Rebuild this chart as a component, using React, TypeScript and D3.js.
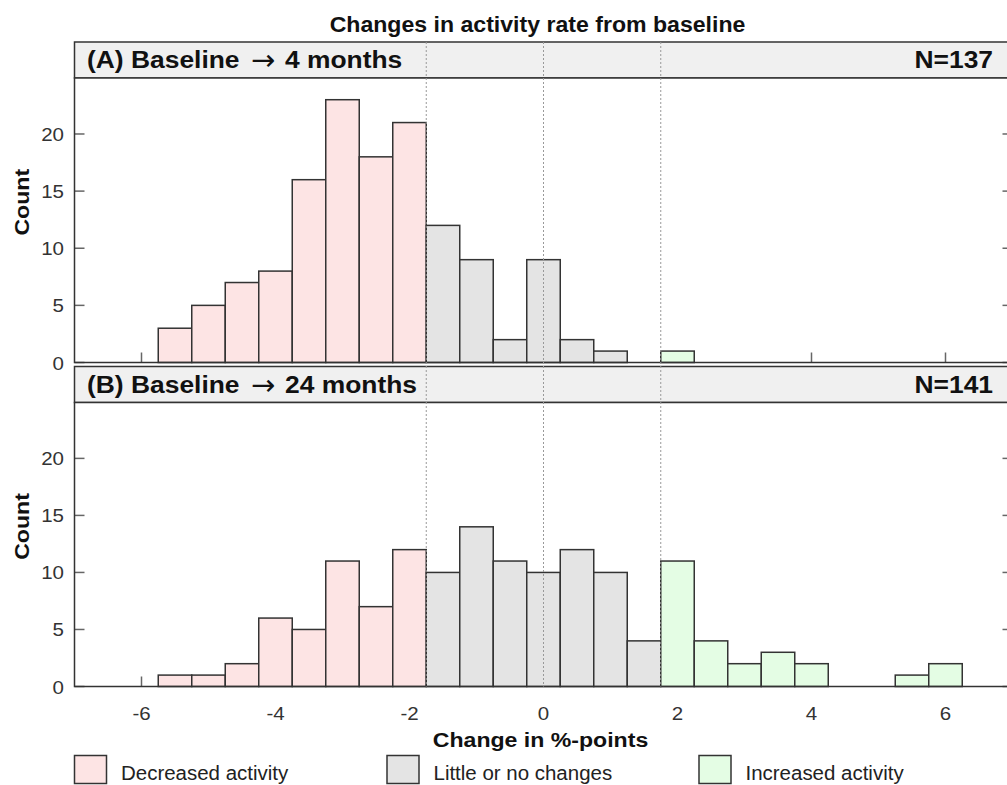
import React from "react";
import * as d3 from "d3";

const title = "Changes in activity rate from baseline";
const binCenters = [-5.5, -5, -4.5, -4, -3.5, -3, -2.5, -2, -1.5, -1, -0.5, 0, 0.5, 1, 1.5, 2, 2.5, 3, 3.5, 4, 4.5, 5, 5.5, 6];
const countsA = [3, 5, 7, 8, 16, 23, 18, 21, 12, 9, 2, 9, 2, 1, 0, 1, 0, 0, 0, 0, 0, 0, 0, 0];
const countsB = [1, 1, 2, 6, 5, 11, 7, 12, 10, 14, 11, 10, 12, 10, 4, 11, 4, 2, 3, 2, 0, 0, 1, 2];
const binWidth = 0.5;
const thresholds = [-1.75, 1.75];
const refLines = [-1.75, 0, 1.75];
const xTicks = [-6, -4, -2, 0, 2, 4, 6];
const yTicks = [0, 5, 10, 15, 20];
const categories = ["Decreased activity", "Little or no changes", "Increased activity"];
const catColors = ["#fde4e4", "#e4e4e4", "#e4fde4"];
const panels = [
  { label: "(A) Baseline", months: "4 months", n: "N=137", counts: countsA },
  { label: "(B) Baseline", months: "24 months", n: "N=141", counts: countsB },
];

const W = 1007;
const H = 785;
const left = 74.5;
const right = 1012.5;
const FONT = "Arial, 'Liberation Sans', sans-serif";
const stroke = "#333";

const panelLayout = [
  { stripTop: 42, stripBottom: 78, plotBottom: 362.5 },
  { stripTop: 366.5, stripBottom: 402.5, plotBottom: 686.5 },
];

function catIndex(c: number) {
  if (c < thresholds[0]) return 0;
  if (c > thresholds[1]) return 2;
  return 1;
}

function T(props: { x: number; y: number; sx?: number; rot?: number; children: any; [k: string]: any }) {
  const { x, y, sx = 1, rot = 0, children, ...rest } = props;
  return (
    <text transform={`translate(${x},${y}) rotate(${rot}) scale(${sx},1)`} {...rest}>
      {children}
    </text>
  );
}

export default function App() {
  const x = d3.scaleLinear().domain([-7, 7]).range([left, right]);
  const topY = panelLayout[0].stripTop;
  const botY = panelLayout[1].plotBottom;

  return (
    <svg width={W} height={H} style={{ position: "absolute", left: 0, top: 0, background: "#fff" }} fontFamily={FONT}>
      <rect x={0} y={0} width={W} height={H} fill="#fff" />
      <T x={537.5} y={32} sx={1.05} textAnchor="middle" fontSize={22} fontWeight="bold" fill="#111">{title}</T>

      {panels.map((p, pi) => {
        const L = panelLayout[pi];
        const y = d3.scaleLinear().domain([0, 24.9]).range([L.plotBottom, L.stripBottom]);
        return (
          <g key={pi}>
            <rect x={left} y={L.stripTop} width={right - left} height={L.stripBottom - L.stripTop} fill="#f0f0f0" stroke={stroke} strokeWidth={1.5} />
            <rect x={left} y={L.stripBottom} width={right - left} height={L.plotBottom - L.stripBottom} fill="#fff" />
            {xTicks.map((t) => (
              <line key={"xt" + t} x1={x(t)} x2={x(t)} y1={L.plotBottom} y2={L.plotBottom - 10} stroke="#666" strokeWidth={1.5} />
            ))}
            {yTicks.map((t) => (
              <g key={"yt" + t}>
                <line x1={left} x2={left + 10} y1={y(t)} y2={y(t)} stroke="#666" strokeWidth={1.5} />
                <line x1={right} x2={right - 10} y1={y(t)} y2={y(t)} stroke="#666" strokeWidth={1.5} />
                <T x={64} y={y(t) + 7} sx={1.08} textAnchor="end" fontSize={19} fill="#333">{t}</T>
              </g>
            ))}
            {binCenters.map((c, i) =>
              p.counts[i] > 0 ? (
                <rect
                  key={"b" + i}
                  x={x(c - binWidth / 2)}
                  y={y(p.counts[i])}
                  width={x(c + binWidth / 2) - x(c - binWidth / 2)}
                  height={y(0) - y(p.counts[i])}
                  fill={catColors[catIndex(c)]}
                  stroke={stroke}
                  strokeWidth={1.5}
                />
              ) : null
            )}
            <rect x={left} y={L.stripBottom} width={right - left} height={L.plotBottom - L.stripBottom} fill="none" stroke={stroke} strokeWidth={1.5} />
            <T x={87} y={L.stripBottom - 10} sx={1.1} fontSize={24} fontWeight="bold" fill="#111">{p.label}</T>
            <text x={251} y={L.stripBottom - 8} fontFamily="'DejaVu Sans', sans-serif" fontSize={29} fill="#111">→</text>
            <T x={285} y={L.stripBottom - 10} sx={1.1} fontSize={24} fontWeight="bold" fill="#111">{p.months}</T>
            <T x={993} y={L.stripBottom - 10} sx={1.1} textAnchor="end" fontSize={24} fontWeight="bold" fill="#111">{p.n}</T>
            <T x={29} y={(L.stripTop + L.plotBottom) / 2} rot={-90} sx={1.1} textAnchor="middle" fontSize={21} fontWeight="bold" fill="#111">Count</T>
          </g>
        );
      })}

      {refLines.map((r) => (
        <line key={"r" + r} x1={x(r)} x2={x(r)} y1={topY} y2={botY} stroke="#999" strokeWidth={1} strokeDasharray="2,2" />
      ))}

      {xTicks.map((t) => (
        <T key={"xl" + t} x={x(t)} y={720} sx={1.08} textAnchor="middle" fontSize={19} fill="#333">{t}</T>
      ))}
      <T x={540.5} y={747} sx={1.1} textAnchor="middle" fontSize={21} fontWeight="bold" fill="#111">Change in %-points</T>

      {categories.map((c, i) => {
        const bx = [74.5, 387, 699][i];
        return (
          <g key={c}>
            <rect x={bx} y={755.5} width={32} height={28} fill={catColors[i]} stroke={stroke} strokeWidth={1.5} />
            <T x={bx + 46.5} y={780} sx={1.05} fontSize={19.5} fill="#222">{c}</T>
          </g>
        );
      })}
    </svg>
  );
}
